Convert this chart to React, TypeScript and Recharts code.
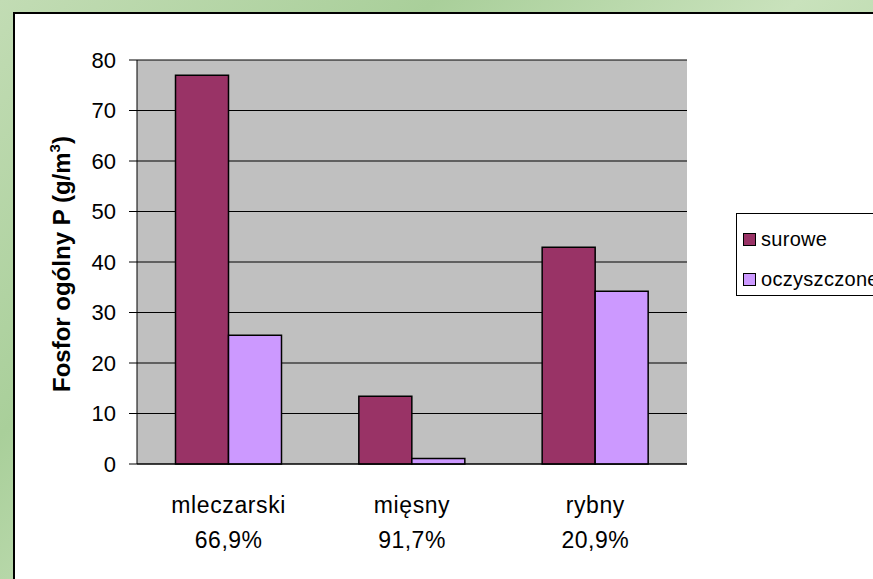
import React from 'react';
import { BarChart, Bar, XAxis, YAxis, CartesianGrid } from 'recharts';

const categories = ['mleczarski', 'mięsny', 'rybny'];
const reductionLabels = ['66,9%', '91,7%', '20,9%'];
const surowe = [77.0, 13.4, 42.9];
const oczyszczone = [25.5, 1.1, 34.2];
const yTicks = [0, 10, 20, 30, 40, 50, 60, 70, 80];
const boundaryTicks = [0, 1, 2, 3];
const seriesKeys = ['surowe', 'oczyszczone'];
const seriesColors = ['#993366', '#CC99FF'];

const data = categories.map((c, i) => ({
  name: c,
  surowe: surowe[i],
  oczyszczone: oczyszczone[i],
}));

const FONT = '"Liberation Sans", Arial, sans-serif';

const CatTick = (props: any) => {
  const { x, y, payload, index } = props;
  return (
    <g>
      <text x={x} y={y + 49} textAnchor="middle" fontSize={23} fontFamily={FONT} fill="#000" letterSpacing={0.6}>
        {payload.value}
      </text>
      <text x={x} y={y + 84} textAnchor="middle" fontSize={23} fontFamily={FONT} fill="#000" letterSpacing={0.5}>
        {reductionLabels[index]}
      </text>
    </g>
  );
};

const YLabel = (props: any) => {
  const vb = props.viewBox || { x: 0, y: 60, width: 137, height: 404 };
  const cx = vb.x + 70;
  const cy = vb.y + vb.height / 2 + 2;
  return (
    <text
      x={cx}
      y={cy}
      transform={`rotate(-90 ${cx} ${cy})`}
      textAnchor="middle"
      fontSize={24}
      fontWeight="bold"
      fontFamily={FONT}
      fill="#000"
    >
      <tspan>Fosfor ogólny P (g/m</tspan>
      <tspan dy={-10} fontSize={15}>3</tspan>
      <tspan dy={10}>)</tspan>
    </text>
  );
};

export default function App() {
  return (
    <div
      style={{
        position: 'fixed',
        left: 0,
        top: 0,
        width: 873,
        height: 579,
        overflow: 'hidden',
        background: 'linear-gradient(135deg, #c2dcb4 0%, #a9cf9a 30%, #c9e2bc 55%, #b0d3a2 80%, #c4dfb6 100%)',
        fontFamily: FONT,
      }}
    >
      <div
        style={{
          position: 'absolute',
          left: 13,
          top: 12,
          width: 900,
          height: 600,
          border: '2px solid #000',
          background: '#fff',
        }}
      />
      <div style={{ position: 'absolute', left: 0, top: 0 }}>
        <BarChart
          width={873}
          height={579}
          data={data}
          margin={{ top: 60, right: 186, bottom: 0, left: 0 }}
          barCategoryGap="21%"
          barGap={0}
        >
          <CartesianGrid vertical={false} horizontal stroke="#000" strokeWidth={1} fill="#C0C0C0" fillOpacity={1} />
          <XAxis
            xAxisId="sep"
            type="number"
            domain={[0, 3]}
            ticks={boundaryTicks}
            height={0}
            axisLine={false}
            tickSize={9}
            tickLine={{ stroke: '#000' }}
            tickFormatter={() => ''}
          />
          <XAxis
            dataKey="name"
            height={115}
            tickLine={false}
            tickSize={0}
            tickMargin={0}
            axisLine={{ stroke: '#000', strokeWidth: 1 }}
            tick={<CatTick />}
            interval={0}
          />
          <YAxis
            width={137}
            domain={[0, 80]}
            ticks={yTicks}
            interval={0}
            tickSize={8}
            tickMargin={13}
            axisLine={{ stroke: '#000' }}
            tickLine={{ stroke: '#000' }}
            tick={{ fontSize: 22, fill: '#000', fontFamily: FONT }}
            label={<YLabel />}
          />
          <YAxis
            yAxisId="border"
            orientation="right"
            width={0}
            domain={[0, 80]}
            tick={false}
            axisLine={{ stroke: '#808080' }}
          />
          {seriesKeys.map((k, i) => (
            <Bar
              key={k}
              dataKey={k}
              fill={seriesColors[i]}
              stroke="#000"
              strokeWidth={1.5}
              isAnimationActive={false}
            />
          ))}
        </BarChart>
      </div>
      <div
        style={{
          position: 'absolute',
          left: 736,
          top: 213,
          width: 200,
          height: 83,
          border: '1px solid #000',
          background: '#fff',
          boxSizing: 'border-box',
        }}
      >
        {seriesKeys.map((k, i) => (
          <div
            key={k}
            style={{
              position: 'absolute',
              left: 6,
              top: 13 + i * 40,
              height: 24,
              display: 'flex',
              alignItems: 'center',
              whiteSpace: 'nowrap',
            }}
          >
            <span
              style={{
                display: 'inline-block',
                width: 11,
                height: 11,
                background: seriesColors[i],
                border: '1px solid #000',
                marginRight: 5,
              }}
            />
            <span style={{ fontSize: 20, color: '#000', letterSpacing: 0.3 }}>{k}</span>
          </div>
        ))}
      </div>
    </div>
  );
}
